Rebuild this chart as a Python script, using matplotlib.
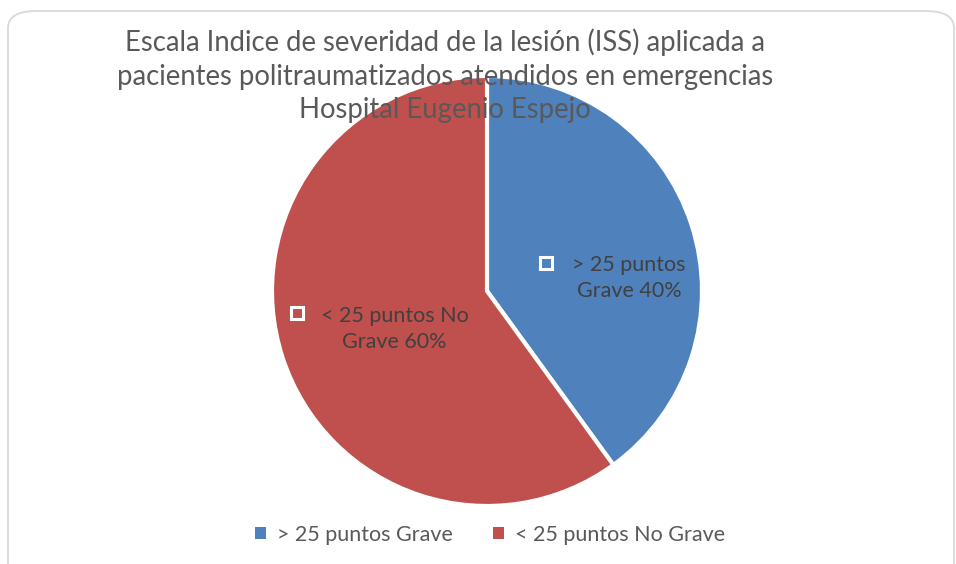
import matplotlib
matplotlib.use("Agg")
import matplotlib.pyplot as plt
from matplotlib.patches import FancyBboxPatch

plt.rcParams["font.family"] = ["Lato", "DejaVu Sans"]

labels = ["> 25 puntos Grave", "< 25 puntos No Grave"]
slice_labels = ["> 25 puntos\nGrave", "< 25 puntos No\nGrave"]
values = [40, 60]
colors = ["#4f81bd", "#c0504d"]
title = ("Escala Indice de severidad de la lesión (ISS) aplicada a\n"
         "pacientes politraumatizados atendidos en emergencias\n"
         "Hospital Eugenio Espejo")

fig = plt.figure(figsize=(9.56, 5.64), dpi=100)

# rounded chart border (runs off the bottom edge)
border = FancyBboxPatch((8 / 956, -40 / 564), 946 / 956, 593 / 564,
                        boxstyle="round,pad=0,rounding_size=0.03",
                        transform=fig.transFigure, facecolor="none",
                        edgecolor="#d9d9d9", linewidth=1.3, zorder=-1)
fig.patches.append(border)

ax = fig.add_axes([(487 - 215) / 956, (564 - 291 - 215) / 564, 430 / 956, 430 / 564])
wedges, _ = ax.pie(values, colors=colors, startangle=90, counterclock=False,
                   wedgeprops=dict(edgecolor="white", linewidth=3))
ax.set_aspect("equal")
ax.set_xlim(-1, 1)
ax.set_ylim(-1, 1)
ax.axis("off")

# data labels with legend key
label_pos = [(0.66, 0.06), (-0.43, -0.175)]
for (x, y), txt, pct in zip(label_pos, slice_labels, values):
    first, second = txt.split("\n")
    ax.text(x, y, f"{first}\n{second} {pct}%", ha="center", va="center",
            fontsize=15.5, color="#404040", linespacing=1.38)
key_pos = [(0.275, 0.13), (-0.885, -0.10)]
for x, y in key_pos:
    ax.plot(x, y, marker="s", markersize=8, markerfacecolor="none",
            markeredgecolor="white", markeredgewidth=2.2)

fig.text(445 / 956, 1 - 76 / 564, title, ha="center", va="center",
         fontsize=19.8, color="#595959", linespacing=1.36, zorder=10)

leg = fig.legend(wedges, labels, loc="center", bbox_to_anchor=(490 / 956, 1 - 535 / 564),
                 ncol=2, frameon=False, fontsize=15.5, handlelength=0.5, handleheight=0.5,
                 handletextpad=0.5, columnspacing=1.9, labelcolor="#595959")
for h in leg.legend_handles:
    h.set_edgecolor("none")

fig.savefig("out.png", dpi=100)
